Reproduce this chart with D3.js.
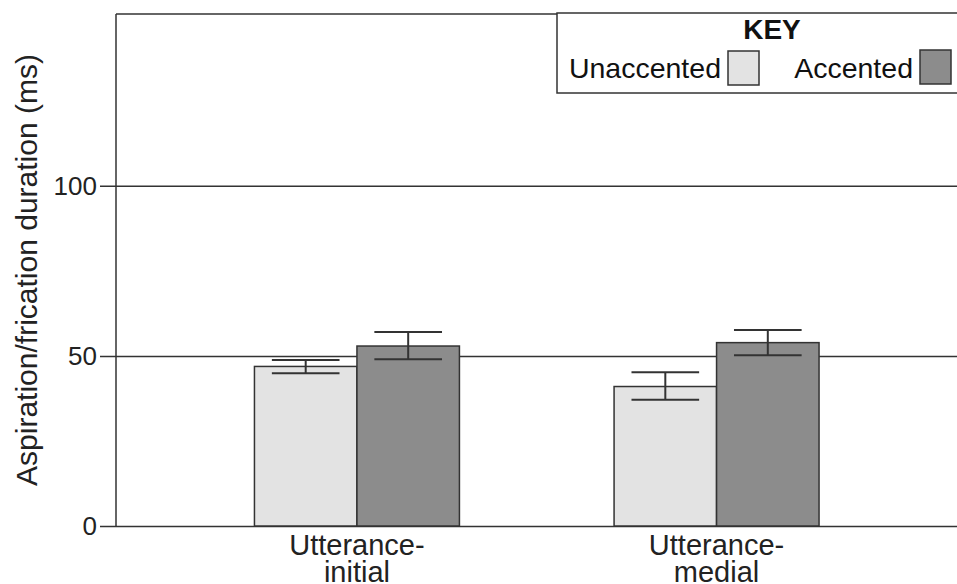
<!DOCTYPE html>
<html>
<head>
<meta charset="utf-8">
<script src="https://cdn.jsdelivr.net/npm/d3@7"></script>
<style>
  body { margin: 0; background: #fff; }
  svg { display: block; font-family: "Liberation Sans", Arial, sans-serif; }
</style>
</head>
<body>
<svg id="chart" width="957" height="584"></svg>
<script>
// data
var categories = [["Utterance-", "initial"], ["Utterance-", "medial"]];
var categoryKeys = ["initial", "medial"];
var series = ["Unaccented", "Accented"];
var unaccented = [46.9, 41.0];
var accented = [52.9, 53.9];
var unaccentedErr = [[44.9, 48.8], [37.1, 45.2]];
var accentedErr = [[49.0, 57.0], [50.2, 57.6]];
var yTicks = [0, 50, 100];
var yLabel = "Aspiration/frication duration (ms)";

var colors = { Unaccented: "#e3e3e3", Accented: "#8c8c8c" };

var svg = d3.select("#chart");
var W = 957, H = 584;
var plotLeft = 116, plotTop = 14, plotBottom = 526;

var y = d3.scaleLinear().domain([0, 150.5]).range([plotBottom, plotTop]);
var x0 = d3.scaleBand().domain(categoryKeys).range([plotLeft, 957.5])
    .paddingInner(0.43).paddingOuter(0.385);
var x1 = d3.scaleBand().domain(series).range([0, x0.bandwidth()]);

var flat = [];
categoryKeys.forEach(function (k, i) {
  flat.push({ cat: k, s: "Unaccented", v: unaccented[i], err: unaccentedErr[i] });
  flat.push({ cat: k, s: "Accented", v: accented[i], err: accentedErr[i] });
});

// frame
svg.append("line").attr("x1", plotLeft).attr("x2", W).attr("y1", plotTop).attr("y2", plotTop)
  .attr("stroke", "#333").attr("stroke-width", 1.5);
svg.append("line").attr("x1", plotLeft).attr("x2", plotLeft).attr("y1", plotTop).attr("y2", plotBottom)
  .attr("stroke", "#333").attr("stroke-width", 1.5);

// grid lines + ticks
var yAxis = d3.axisLeft(y).tickValues(yTicks).tickSize(-(W - plotLeft)).tickFormat(d3.format("d"));
var ga = svg.append("g").attr("transform", "translate(" + plotLeft + ",0)").call(yAxis);
ga.select(".domain").remove();
ga.selectAll(".tick line").attr("x1", -16).attr("stroke", "#333").attr("stroke-width", 1.5);
ga.selectAll(".tick text").attr("x", -19).attr("font-size", 26).attr("fill", "#222")
  .attr("font-family", "Liberation Sans, Arial, sans-serif");

// bars
svg.append("g").selectAll("rect").data(flat).enter().append("rect")
  .attr("x", function (d) { return x0(d.cat) + x1(d.s); })
  .attr("y", function (d) { return y(d.v); })
  .attr("width", x1.bandwidth())
  .attr("height", function (d) { return y(0) - y(d.v); })
  .attr("fill", function (d) { return colors[d.s]; })
  .attr("stroke", "#333").attr("stroke-width", 1.5);

// error bars
var capW = x1.bandwidth() * 0.66;
var eb = svg.append("g").attr("stroke", "#333").attr("stroke-width", 2);
flat.forEach(function (d) {
  var cx = x0(d.cat) + x1(d.s) + x1.bandwidth() / 2;
  eb.append("line").attr("x1", cx).attr("x2", cx).attr("y1", y(d.err[0])).attr("y2", y(d.err[1]));
  d.err.forEach(function (e) {
    eb.append("line").attr("x1", cx - capW / 2).attr("x2", cx + capW / 2).attr("y1", y(e)).attr("y2", y(e));
  });
});

// x labels
var xl = svg.append("g").attr("font-size", 29).attr("fill", "#222").attr("text-anchor", "middle");
categoryKeys.forEach(function (k, i) {
  var cx = x0(k) + x0.bandwidth() / 2;
  var t = xl.append("text").attr("y", 555);
  t.append("tspan").attr("x", cx).text(categories[i][0]);
  t.append("tspan").attr("x", cx).attr("dy", 27).text(categories[i][1]);
});

// y label
svg.append("text").attr("transform", "translate(37,270) rotate(-90)")
  .attr("text-anchor", "middle").attr("font-size", 30).attr("fill", "#222").text(yLabel);

// key
var key = svg.append("g");
key.append("rect").attr("x", 557).attr("y", 13).attr("width", 420).attr("height", 80)
  .attr("fill", "#fff").attr("stroke", "#333").attr("stroke-width", 1.5);
key.append("text").attr("x", 772).attr("y", 39).attr("text-anchor", "middle")
  .attr("font-size", 28).attr("font-weight", "bold").attr("fill", "#111").text("KEY");
var keyPos = [{ tx: 721, sx: 728, sy: 51 }, { tx: 913, sx: 920, sy: 50 }];
series.forEach(function (s, i) {
  key.append("text").attr("x", keyPos[i].tx).attr("y", 78).attr("text-anchor", "end")
    .attr("font-size", 28.5).attr("fill", "#111").text(s);
  key.append("rect").attr("x", keyPos[i].sx).attr("y", keyPos[i].sy).attr("width", 31).attr("height", 34)
    .attr("fill", colors[s]).attr("stroke", "#333").attr("stroke-width", 1.5);
});
</script>
</body>
</html>
